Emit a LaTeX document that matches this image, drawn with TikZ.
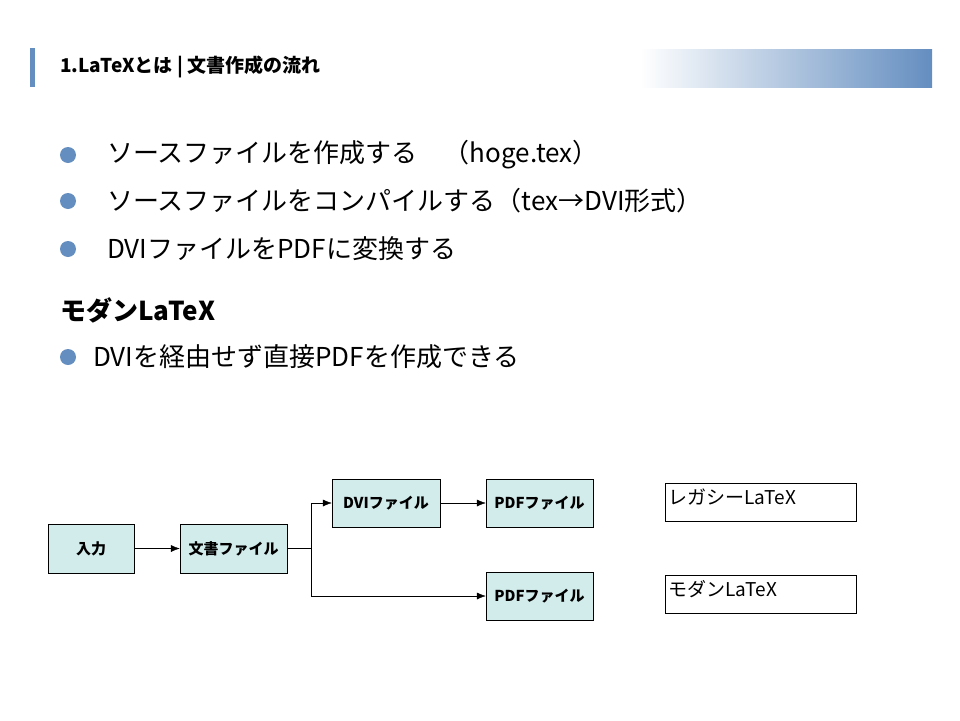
\documentclass[tikz,border=0pt]{standalone}
\usepackage{fontspec}
\setmainfont{Noto Sans CJK JP}
\usetikzlibrary{positioning, arrows.meta}
\definecolor{barblue}{RGB}{100,142,192}
\definecolor{boxfill}{RGB}{210,236,236}
\tikzset{
  flowbox/.style={draw, fill=boxfill, minimum height=49pt, inner sep=0pt, font=\bfseries\fontsize{15}{15}\selectfont},
  notebox/.style={draw, minimum width=191pt, minimum height=38pt, text width=185pt, inner sep=3pt, align=left, font=\fontsize{19}{19}\selectfont},
  bul/.style={circle, fill=barblue, minimum size=16pt, inner sep=0pt},
  item/.style={anchor=west, inner sep=0pt, font=\fontsize{26}{26}\selectfont},
}
\begin{document}
\begin{tikzpicture}[x=1pt, y=-1pt, >={Latex[length=9pt,width=7pt]}]
  \useasboundingbox (0,0) rectangle (960,720);
  % header
  \fill[barblue] (30,48) rectangle (35,87);
  \shade[left color=white, right color=barblue] (640,49) rectangle (932,87);
  \node[anchor=west, inner sep=0pt, font=\bfseries\fontsize{19}{19}\selectfont] (title) at (60,67) {1.LaTeXとは | 文書作成の流れ};
  % bullets
  \node[bul] (b1) at (68,155) {};
  \node[item] (t1) at (107,155) {ソースファイルを作成する\quad （hoge.tex）};
  \node[bul] (b2) at (68,201) {};
  \node[item] (t2) at (107,201) {ソースファイルをコンパイルする（tex→DVI形式）};
  \node[bul] (b3) at (68,249) {};
  \node[item] (t3) at (107,249) {DVIファイルをPDFに変換する};
  \node[item, font=\bfseries\fontsize{26}{26}\selectfont] (modern) at (60,310) {モダンLaTeX};
  \node[bul] (b4) at (68,357) {};
  \node[item] (t4) at (93,357) {DVIを経由せず直接PDFを作成できる};
  % flow
  \node[flowbox, minimum width=86pt] (input) at (91,548.5) {入力};
  \node[flowbox, minimum width=107pt] (doc) at (233.5,548.5) {文書ファイル};
  \node[flowbox, minimum width=108pt, minimum height=48pt] (dvi) at (386,503) {DVIファイル};
  \node[flowbox, minimum width=107pt, minimum height=48pt] (pdfa) at (539.5,503) {PDFファイル};
  \node[flowbox, minimum width=107pt, minimum height=48pt] (pdfb) at (539.5,596) {PDFファイル};
  \coordinate (split) at (311,548.5);
  \draw[->] (input) -- (doc);
  \draw (doc) -- (split);
  \draw[->] (split) |- (dvi);
  \draw[->] (split) |- (pdfb);
  \draw[->] (dvi) -- (pdfa);
  % notes
  \node[notebox] (legacy) at (760.5,502.5) {レガシーLaTeX\\[-8pt]\mbox{}};
  \node[notebox] (modern2) at (760.5,594) {モダンLaTeX\\[-8pt]\mbox{}};
\end{tikzpicture}
\end{document}
